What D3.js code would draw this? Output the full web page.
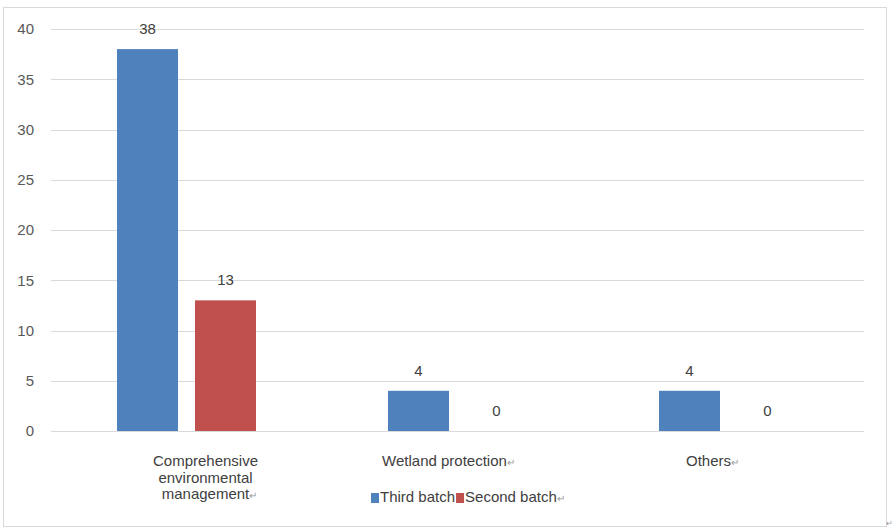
<!DOCTYPE html>
<html>
<head>
<meta charset="utf-8">
<script src="https://cdn.jsdelivr.net/npm/d3@7"></script>
<style>
  html, body { margin: 0; padding: 0; background: #fff; }
  svg { display: block; font-family: "Liberation Sans", Arial, sans-serif; }
</style>
</head>
<body>
<svg id="chart" width="894" height="528"></svg>
<script>
// Project counts by category, third batch vs second batch
const categories = ["Comprehensive environmental management", "Wetland protection", "Others"];
const seriesNames = ["Third batch", "Second batch"];
const thirdBatch = [38, 4, 4];
const secondBatch = [13, 0, 0];
const yTicks = [0, 5, 10, 15, 20, 25, 30, 35, 40];

const colors = ["#4F81BD", "#C0504D"];
const PARA = "\u21B5";

const svg = d3.select("#chart");
const W = 894, H = 528;
const margin = { left: 51, right: 30, top: 29, bottom: 97 };
const plotRight = W - margin.right;
const plotBottom = H - margin.bottom;

// Outer frame
svg.append("rect")
  .attr("x", 3.5).attr("y", 7.5)
  .attr("width", 883).attr("height", 519)
  .attr("fill", "none").attr("stroke", "#d9d9d9");
svg.append("text")
  .attr("x", 886).attr("y", 526)
  .attr("font-size", 8).attr("fill", "#999")
  .text(PARA);

const y = d3.scaleLinear().domain([0, 40]).range([plotBottom, margin.top]);
const x0 = d3.scaleBand().domain(categories).range([margin.left, plotRight]).padding(0);
const x1 = d3.scaleBand().domain(seriesNames).range([0, x0.bandwidth()])
  .paddingInner(0.218).paddingOuter(0.846);

// Gridlines
svg.append("g").selectAll("line").data(yTicks).join("line")
  .attr("x1", margin.left).attr("x2", plotRight)
  .attr("y1", d => Math.round(y(d)) + 0.5).attr("y2", d => Math.round(y(d)) + 0.5)
  .attr("stroke", "#d9d9d9").attr("stroke-width", 1);

// Y axis labels
const yAxis = d3.axisLeft(y).tickValues(yTicks).tickSize(0).tickPadding(17);
const yg = svg.append("g").attr("transform", `translate(${margin.left},0)`).call(yAxis);
yg.select(".domain").remove();
yg.selectAll("text")
  .attr("font-family", "'Liberation Sans', Arial, sans-serif")
  .attr("font-size", 15).attr("fill", "#595959");

// Bars
const rows = categories.map((c, i) => ({
  cat: c,
  vals: [thirdBatch[i], secondBatch[i]]
}));
const groups = svg.append("g").selectAll("g").data(rows).join("g")
  .attr("transform", d => `translate(${x0(d.cat)},0)`);

groups.selectAll("rect")
  .data(d => d.vals.map((v, k) => ({ name: seriesNames[k], v, k })))
  .join("rect")
  .attr("x", d => x1(d.name))
  .attr("y", d => y(d.v))
  .attr("width", x1.bandwidth())
  .attr("height", d => y(0) - y(d.v))
  .attr("fill", d => colors[d.k]);

// Value labels
groups.selectAll("text.val")
  .data(d => d.vals.map((v, k) => ({ name: seriesNames[k], v, k })))
  .join("text").attr("class", "val")
  .attr("x", d => x1(d.name) + x1.bandwidth() / 2)
  .attr("y", d => y(d.v) - 15)
  .attr("text-anchor", "middle")
  .attr("font-size", 15).attr("fill", "#404040")
  .text(d => d.v);

// Category labels (wrapped), with small horizontal nudges for each label block
const labelNudge = [19, -9, -16];
const wrapWidth = 140;
categories.forEach((c, i) => {
  const cx = x0(c) + x0.bandwidth() / 2 + labelNudge[i];
  const t = svg.append("text")
    .attr("text-anchor", "middle")
    .attr("font-size", 15).attr("fill", "#404040");
  const words = c.split(" ");
  const lines = [];
  let line = [];
  const probe = svg.append("text").attr("font-size", 15);
  words.forEach(w => {
    const test = line.concat([w]).join(" ");
    probe.text(test);
    if (probe.node().getComputedTextLength() > wrapWidth && line.length) {
      lines.push(line.join(" "));
      line = [w];
    } else {
      line.push(w);
    }
  });
  lines.push(line.join(" "));
  probe.remove();
  lines.forEach((ln, j) => {
    const ts = t.append("tspan").attr("x", cx + (j === lines.length - 1 && lines.length > 1 ? 4 : 0))
      .attr("y", 466 + j * 16.5).text(ln);
    if (j === lines.length - 1) {
      ts.append("tspan").attr("font-size", 10).attr("fill", "#999").text(PARA);
    }
  });
});

// Legend
const legend = svg.append("g");
let lx = 371;
const ly = 502;
seriesNames.forEach((n, k) => {
  legend.append("rect")
    .attr("x", lx).attr("y", ly - 9)
    .attr("width", 8).attr("height", 10)
    .attr("fill", colors[k]);
  const txt = legend.append("text")
    .attr("x", lx + 9).attr("y", ly)
    .attr("font-size", 15).attr("fill", "#404040")
    .text(n);
  if (k === seriesNames.length - 1) {
    txt.append("tspan").attr("font-size", 10).attr("fill", "#999").text(PARA);
  }
  lx += 9 + txt.node().getComputedTextLength() + 1;
});
</script>
</body>
</html>
